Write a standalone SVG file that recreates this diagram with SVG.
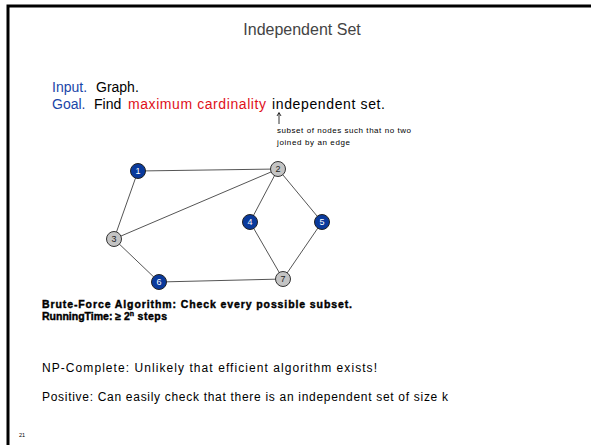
<svg xmlns="http://www.w3.org/2000/svg" width="591" height="445" viewBox="0 0 591 445">
<style>
text{font-family:"Liberation Sans",Arial,sans-serif}
.edge{stroke:#555;stroke-width:1}
.blue circle{fill:#0a3a9c;stroke:#222;stroke-width:1}
.gray circle{fill:#c4c4c4;stroke:#333;stroke-width:1}
.blue text{fill:#fff;font-size:9px;text-anchor:middle}
.gray text{fill:#222;font-size:9px;text-anchor:middle}
.lbl{fill:#1a46a8}
.red{fill:#e0101a}
</style>
<rect width="591" height="445" fill="#fff"/>
<path d="M8,445 V6 H591" fill="none" stroke="#000" stroke-width="3"/>
<text x="302" y="35" font-size="16" fill="#444" text-anchor="middle">Independent Set</text>
<text x="52" y="92" font-size="14"><tspan class="lbl">Input.</tspan><tspan x="96" fill="#000">Graph.</tspan></text>
<text x="52" y="109" font-size="14"><tspan class="lbl">Goal.</tspan><tspan x="94" fill="#000">Find</tspan><tspan x="128" class="red" textLength="138">maximum cardinality</tspan><tspan x="272" fill="#000" textLength="113">independent set.</tspan></text>
<line x1="279" y1="124" x2="279" y2="113" stroke="#000" stroke-width="0.8"/>
<path d="M277,116 L279,112.5 L281,116" fill="none" stroke="#000" stroke-width="0.8"/>
<text x="277" y="133" font-size="8" fill="#000" textLength="134">subset of nodes such that no two</text>
<text x="277" y="145" font-size="8" fill="#000" textLength="73">joined by an edge</text>
<g id="connectors">
<line class="edge" x1="138" y1="171" x2="278" y2="169"/>
<line class="edge" x1="138" y1="171" x2="114" y2="239"/>
<line class="edge" x1="278" y1="169" x2="114" y2="239"/>
<line class="edge" x1="278" y1="169" x2="250" y2="222"/>
<line class="edge" x1="278" y1="169" x2="322" y2="222"/>
<line class="edge" x1="114" y1="239" x2="159" y2="282"/>
<line class="edge" x1="159" y1="282" x2="283" y2="279"/>
<line class="edge" x1="250" y1="222" x2="283" y2="279"/>
<line class="edge" x1="322" y1="222" x2="283" y2="279"/>
</g>
<g id="n1" class="blue"><circle cx="138" cy="171" r="7.5"/><text x="138" y="174.2">1</text></g>
<g id="n2" class="gray"><circle cx="278" cy="169" r="7.5"/><text x="278" y="172.2">2</text></g>
<g id="n3" class="gray"><circle cx="114" cy="239" r="7.5"/><text x="114" y="242.2">3</text></g>
<g id="n4" class="blue"><circle cx="250" cy="222" r="7.5"/><text x="250" y="225.2">4</text></g>
<g id="n5" class="blue"><circle cx="322" cy="222" r="7.5"/><text x="322" y="225.2">5</text></g>
<g id="n6" class="blue"><circle cx="159" cy="282" r="7.5"/><text x="159" y="285.2">6</text></g>
<g id="n7" class="gray"><circle cx="283" cy="279" r="7.5"/><text x="283" y="282.2">7</text></g>
<text x="42" y="308" font-size="10.5" font-weight="bold" fill="#000" stroke="#000" stroke-width="0.4" textLength="310">Brute-Force Algorithm: Check every possible subset.</text>
<text x="42" y="320" font-size="10.5" font-weight="bold" fill="#000" stroke="#000" stroke-width="0.4">RunningTime: ≥ 2<tspan font-size="7" dy="-4">n</tspan><tspan dy="4" textLength="33"> steps</tspan></text>
<text x="42" y="372" font-size="12" fill="#000" textLength="335">NP-Complete: Unlikely that efficient algorithm exists!</text>
<text x="42" y="401" font-size="12" fill="#000" textLength="406">Positive: Can easily check that there is an independent set of size k</text>
<text x="19" y="437" font-size="5.5" fill="#000">21</text>
</svg>
